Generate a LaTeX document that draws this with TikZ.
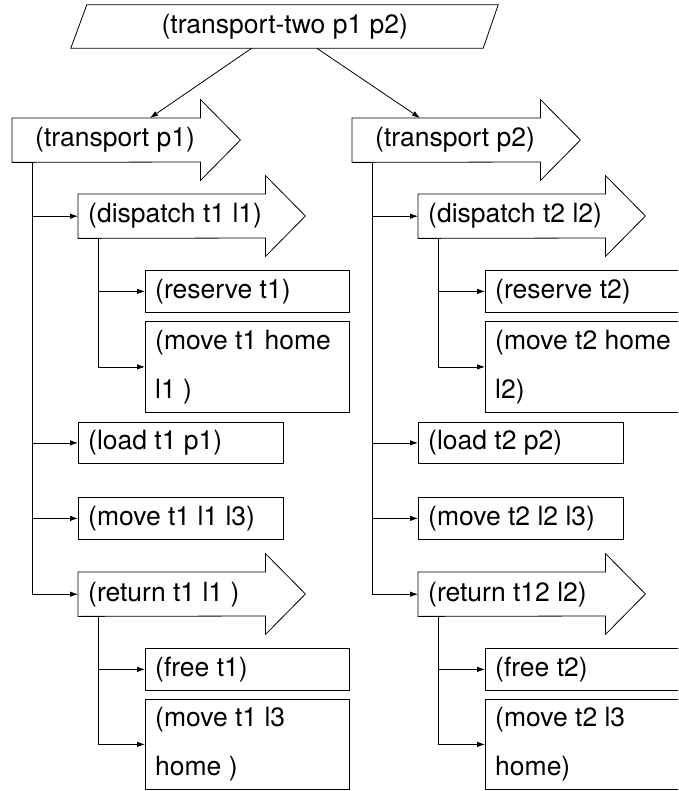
\documentclass[tikz,border=0pt]{standalone}
\usepackage{fontspec}
\setmainfont{TeX Gyre Heros}
\usetikzlibrary{arrows.meta}
\newcommand\drawarrowshape[1]{%
  \draw[frame] (#1.south west) -- (#1.north west) -- (#1.north east)
    -- ++(0,-18.5) -- ++(40,40.5) -- ++(-40,40.5) -- ++(0,-18.5) -- cycle;}
\tikzset{
  frame/.style={draw=black, line width=0.8pt, line join=miter},
  bx/.style={frame, inner sep=0pt, anchor=north west},
  body/.style={inner sep=0pt, anchor=north west, minimum height=44pt},
  lbl/.style={anchor=west, inner sep=0pt, align=left, font=\fontsize{26.5pt}{49pt}\selectfont},
  conn/.style={line width=0.8pt, -{Latex[length=8pt,width=5.5pt]}}
}
\begin{document}
\begin{tikzpicture}[x=1pt,y=-1pt]
\useasboundingbox (0,0) rectangle (678,791);
\clip (0,0) rectangle (678,791);
\fill[white] (0,0) rectangle (678,791);

% top parallelogram
\node[inner sep=0pt, minimum width=411.5pt, minimum height=43pt,
      font=\fontsize{26.5pt}{49pt}\selectfont] (top) at (284.75,26.5) {(transport-two p1 p2)};
\draw[frame] ([xshift=8pt]top.north west) -- ([xshift=7.5pt]top.north east)
  -- ([xshift=-7.5pt]top.south east) -- ([xshift=-8pt]top.south west) -- cycle;

% ---------- left column ----------
\node[body, minimum width=188pt] (tpa) at (12,118) {};
\drawarrowshape{tpa}
\node[lbl] (tpat) at ([xshift=23pt]tpa.west) {(transport p1)};

\node[body, minimum width=187pt] (dpa) at (78,194) {};
\drawarrowshape{dpa}
\node[lbl] (dpat) at ([xshift=10pt]dpa.west) {(dispatch t1 l1)};

\node[bx, minimum width=204pt, minimum height=42pt] (rsa) at (145,270) {};
\node[lbl] (rsat) at ([xshift=10pt]rsa.west) {(reserve t1)};

\node[bx, minimum width=204pt, minimum height=91pt] (mha) at (145,321) {};
\node[lbl] (mhat) at ([xshift=10pt]mha.west) {(move t1 home\\l1 )};

\node[bx, minimum width=205pt, minimum height=41pt] (lda) at (78,422) {};
\node[lbl] (ldat) at ([xshift=10pt]lda.west) {(load t1 p1)};

\node[bx, minimum width=205pt, minimum height=42pt] (mla) at (78,497) {};
\node[lbl] (mlat) at ([xshift=10pt]mla.west) {(move t1 l1 l3)};

\node[body, minimum width=187pt] (rta) at (78,572) {};
\drawarrowshape{rta}
\node[lbl] (rtat) at ([xshift=10pt]rta.west) {(return t1 l1 )};

\node[bx, minimum width=204pt, minimum height=42pt] (fra) at (145,648) {};
\node[lbl] (frat) at ([xshift=10pt]fra.west) {(free t1)};

\node[bx, minimum width=204pt, minimum height=90pt] (mra) at (145,699) {};
\node[lbl] (mrat) at ([xshift=10pt]mra.west) {(move t1 l3\\home )};

\draw[conn] ([xshift=20pt]tpa.south west) |- (dpa.west);
\draw[conn] ([xshift=20pt]tpa.south west) |- (lda.west);
\draw[conn] ([xshift=20pt]tpa.south west) |- (mla.west);
\draw[conn] ([xshift=20pt]tpa.south west) |- (rta.west);
\draw[conn] ([xshift=20pt]dpa.south west) |- (rsa.west);
\draw[conn] ([xshift=20pt]dpa.south west) |- (mha.west);
\draw[conn] ([xshift=20pt]rta.south west) |- (fra.west);
\draw[conn] ([xshift=20pt]rta.south west) |- (mra.west);

% ---------- right column ----------
\begin{scope}[xshift=340pt]
\node[body, minimum width=188pt] (tpb) at (12,118) {};
\drawarrowshape{tpb}
\node[lbl] (tpbt) at ([xshift=23pt]tpb.west) {(transport p2)};

\node[body, minimum width=187pt] (dpb) at (78,194) {};
\drawarrowshape{dpb}
\node[lbl] (dpbt) at ([xshift=10pt]dpb.west) {(dispatch t2 l2)};

\node[bx, minimum width=204pt, minimum height=42pt] (rsb) at (145,270) {};
\node[lbl] (rsbt) at ([xshift=10pt]rsb.west) {(reserve t2)};

\node[bx, minimum width=204pt, minimum height=91pt] (mhb) at (145,321) {};
\node[lbl] (mhbt) at ([xshift=10pt]mhb.west) {(move t2 home\\l2)};

\node[bx, minimum width=205pt, minimum height=41pt] (ldb) at (78,422) {};
\node[lbl] (ldbt) at ([xshift=10pt]ldb.west) {(load t2 p2)};

\node[bx, minimum width=205pt, minimum height=42pt] (mlb) at (78,497) {};
\node[lbl] (mlbt) at ([xshift=10pt]mlb.west) {(move t2 l2 l3)};

\node[body, minimum width=187pt] (rtb) at (78,572) {};
\drawarrowshape{rtb}
\node[lbl] (rtbt) at ([xshift=10pt]rtb.west) {(return t12 l2)};

\node[bx, minimum width=204pt, minimum height=42pt] (frb) at (145,648) {};
\node[lbl] (frbt) at ([xshift=10pt]frb.west) {(free t2)};

\node[bx, minimum width=204pt, minimum height=90pt] (mrb) at (145,699) {};
\node[lbl] (mrbt) at ([xshift=10pt]mrb.west) {(move t2 l3\\home)};

\draw[conn] ([xshift=20pt]tpb.south west) |- (dpb.west);
\draw[conn] ([xshift=20pt]tpb.south west) |- (ldb.west);
\draw[conn] ([xshift=20pt]tpb.south west) |- (mlb.west);
\draw[conn] ([xshift=20pt]tpb.south west) |- (rtb.west);
\draw[conn] ([xshift=20pt]dpb.south west) |- (rsb.west);
\draw[conn] ([xshift=20pt]dpb.south west) |- (mhb.west);
\draw[conn] ([xshift=20pt]rtb.south west) |- (frb.west);
\draw[conn] ([xshift=20pt]rtb.south west) |- (mrb.west);
\end{scope}

% connectors from the top
\draw[conn] ([xshift=-33pt]top.south) -- ([xshift=138pt]tpa.north west);
\draw[conn] ([xshift=32pt]top.south) -- ([xshift=68pt]tpb.north west);
\end{tikzpicture}
\end{document}
